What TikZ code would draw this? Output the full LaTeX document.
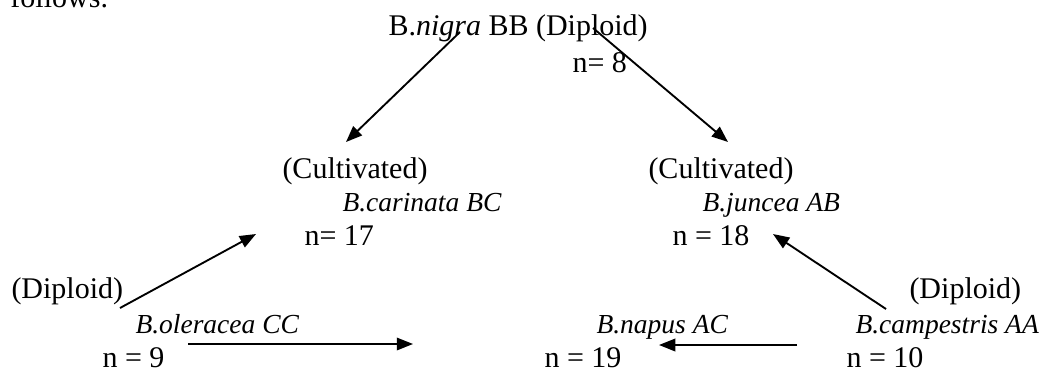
\documentclass[tikz,border=0pt]{standalone}
\usepackage{fontspec}
\setmainfont{Liberation Serif}
\usetikzlibrary{arrows.meta}
\begin{document}
\begin{tikzpicture}[x=0.4pt,y=-0.4pt,
  lbl/.style={anchor=base west,inner sep=0pt,font=\fontsize{12}{14}\selectfont},
  sp/.style={anchor=base west,inner sep=0pt,font=\fontsize{11}{13}\selectfont\itshape},
  arr/.style={line width=0.75pt,-{Triangle[length=6.5pt,width=5pt]}}]
\useasboundingbox (0,0) rectangle (1047,375);
\clip (0,0) rectangle (1047,375);
\fill[white] (0,0) rectangle (1047,375);
% top partial text
\node[lbl] (fol) at (10,7) {follows.};
% top node
\node[lbl] (nigra) at (388,35) {B.\textit{nigra} BB (Diploid)};
\node[lbl] (n8) at (572,72) {n= 8};
% left cultivated
\node[lbl] (cultL) at (282,178) {(Cultivated)};
\node[sp] (carinata) at (342,211) {B.carinata BC};
\node[lbl] (n17) at (304,245) {n= 17};
% right cultivated
\node[lbl] (cultR) at (648,178) {(Cultivated)};
\node[sp] (juncea) at (702,211) {B.juncea AB};
\node[lbl] (n18) at (672,245) {n = 18};
% bottom left
\node[lbl] (dipL) at (11,298) {(Diploid)};
\node[sp] (oleracea) at (135,333) {B.oleracea CC};
\node[lbl] (n9) at (102,367) {n = 9};
% bottom middle
\node[sp] (napus) at (596,333) {B.napus AC};
\node[lbl] (n19) at (544,367) {n = 19};
% bottom right
\node[lbl] (dipR) at (909,298) {(Diploid)};
\node[sp] (campestris) at (855,333) {B.campestris AA};
\node[lbl] (n10) at (846,367) {n = 10};
% arrow end points
\coordinate (a1s) at (460,32);
\coordinate (a1e) at (346,142);
\coordinate (a2s) at (593,28);
\coordinate (a2e) at (728,142);
\coordinate (a3s) at (120,308);
\coordinate (a3e) at (256,234);
\coordinate (a4s) at (886,309);
\coordinate (a4e) at (773,234);
\coordinate (a5s) at (188,344);
\coordinate (a5e) at (413,344);
\coordinate (a6s) at (797,345);
\coordinate (a6e) at (659,345);
\draw[arr] (a1s) -- (a1e);
\draw[arr] (a2s) -- (a2e);
\draw[arr] (a3s) -- (a3e);
\draw[arr] (a4s) -- (a4e);
\draw[arr] (a5s) -- (a5e);
\draw[arr] (a6s) -- (a6e);
\end{tikzpicture}
\end{document}
